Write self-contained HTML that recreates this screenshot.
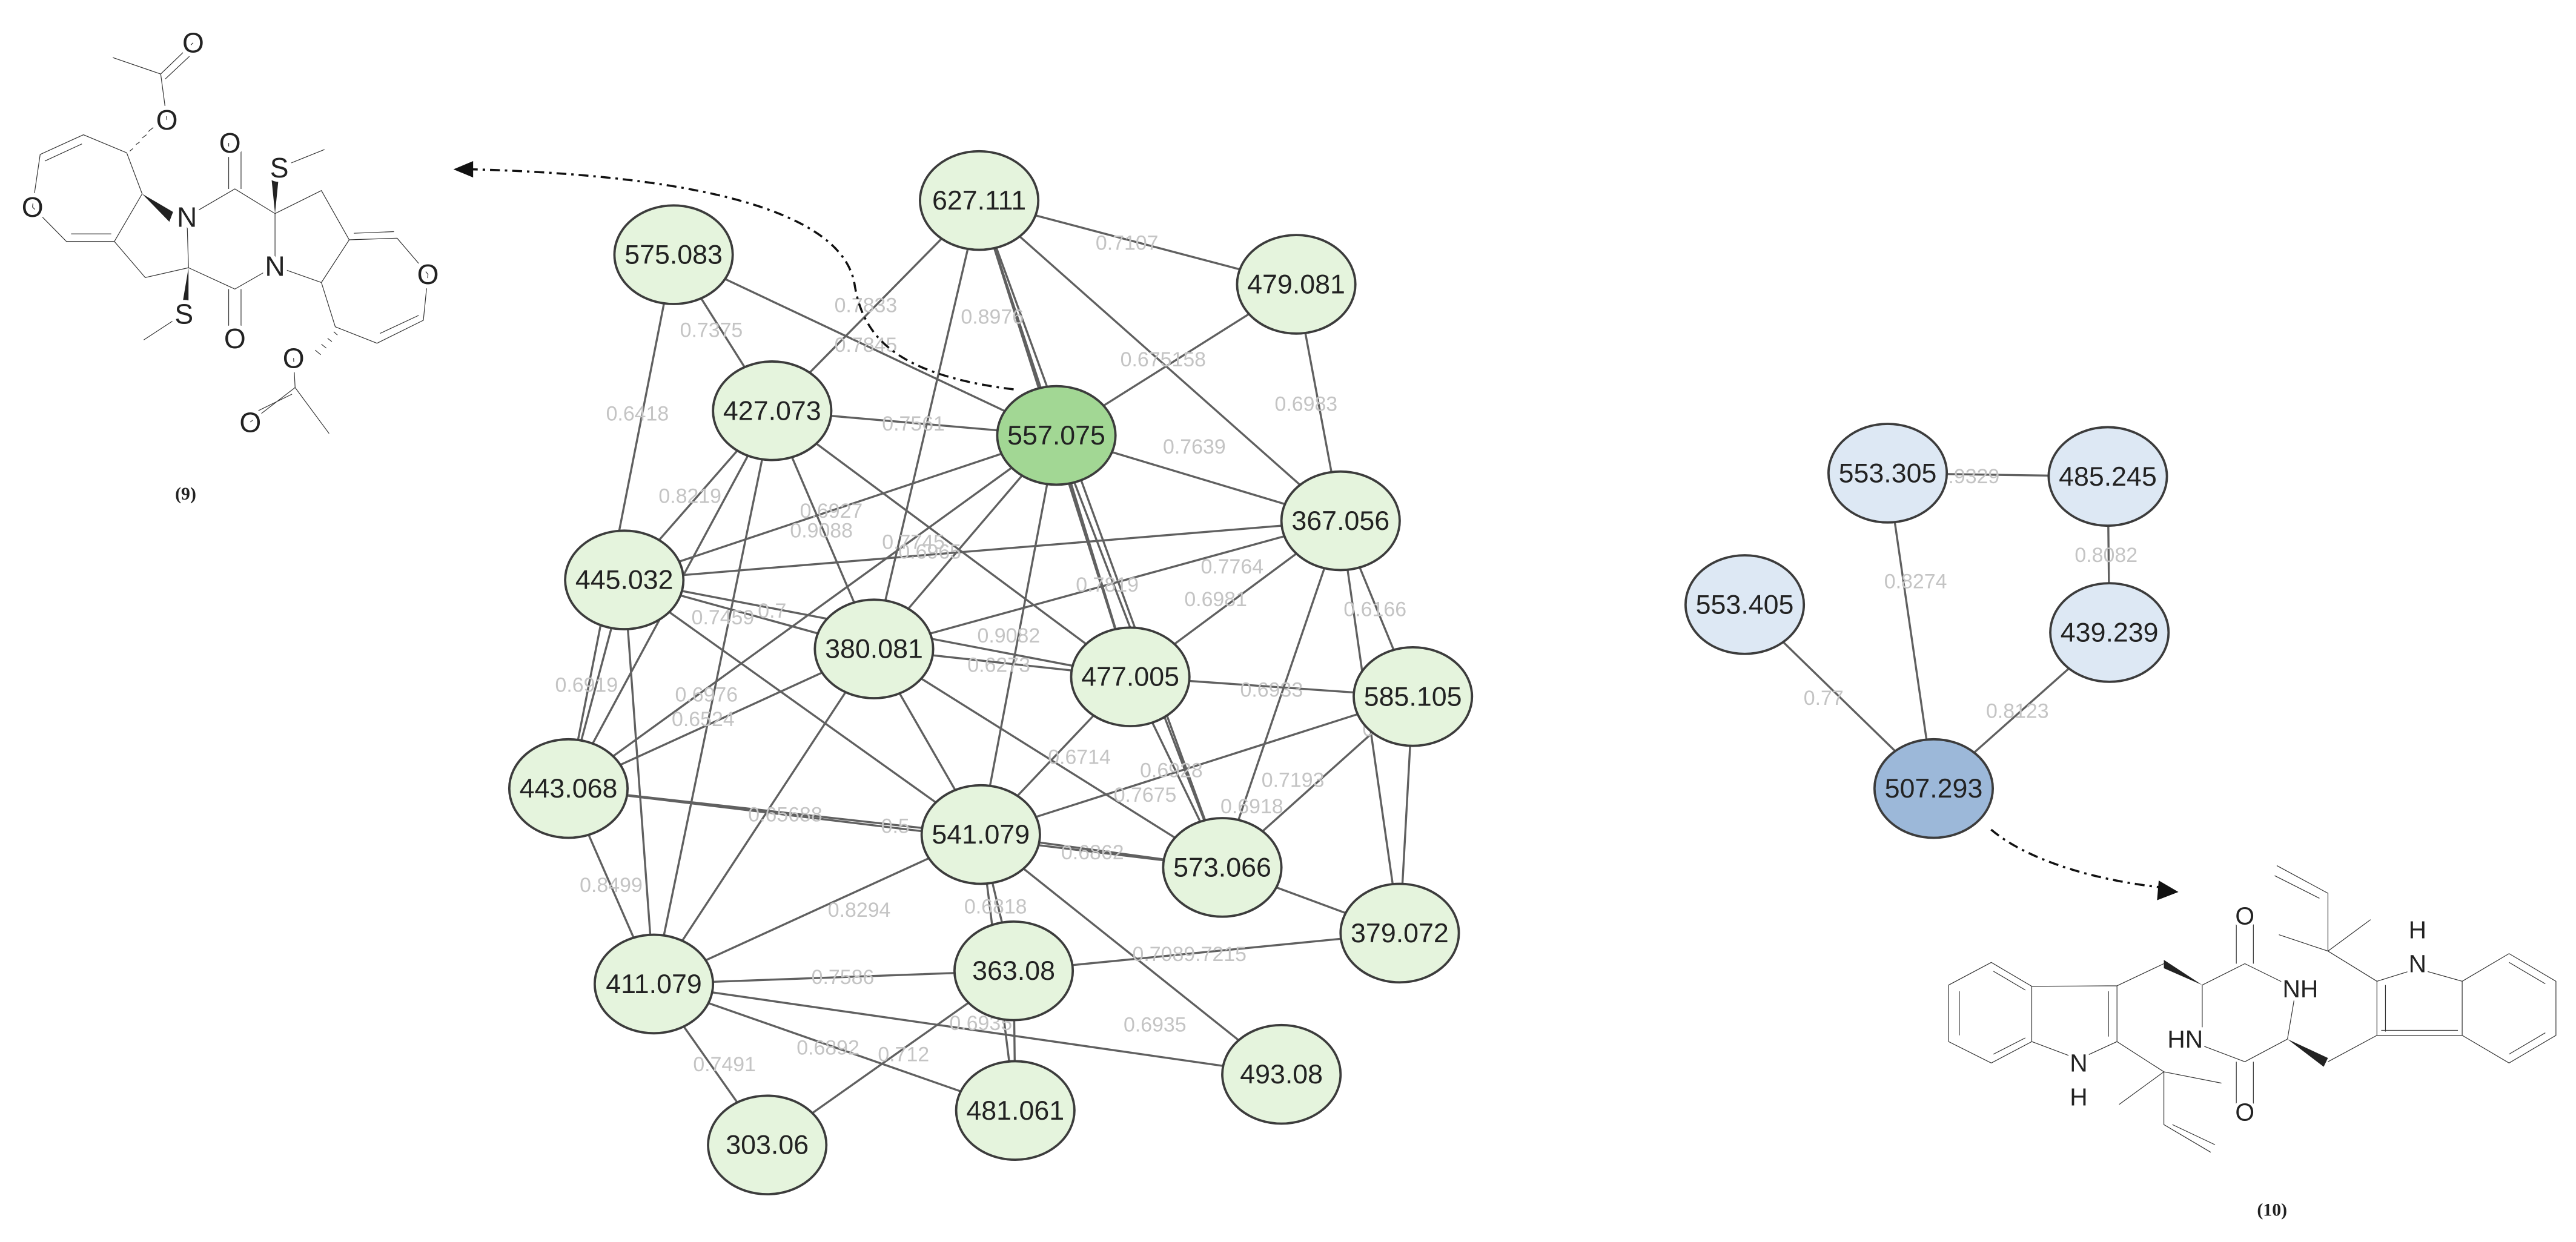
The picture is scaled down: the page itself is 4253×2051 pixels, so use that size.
<!DOCTYPE html>
<html><head><meta charset="utf-8"><style>
html,body{margin:0;padding:0;background:#fff;}
svg{display:block}
.e{stroke:#606060;stroke-width:1.25;fill:none}
.nd{stroke:#3c3c3c;stroke-width:1.4}
.nt{font-family:"Liberation Sans",sans-serif;font-size:16.5px;fill:#222;text-anchor:middle;dominant-baseline:central}
.el{font-family:"Liberation Sans",sans-serif;font-size:12.5px;fill:#c4c4c4;text-anchor:middle;dominant-baseline:central}
.b{stroke:#333;stroke-width:1.2;fill:none;vector-effect:non-scaling-stroke}
.b2{stroke:#333;stroke-width:1.2;fill:none;vector-effect:non-scaling-stroke}
.at{font-family:"Liberation Sans",sans-serif;font-size:17px;fill:#222;text-anchor:middle;dominant-baseline:central;stroke:#fff;stroke-width:5px;paint-order:stroke}
.at2{font-family:"Liberation Sans",sans-serif;font-size:15px;fill:#222;text-anchor:middle;dominant-baseline:central;stroke:#fff;stroke-width:4px;paint-order:stroke}
.lab{font-family:"Liberation Serif",serif;font-weight:bold;font-size:11px;fill:#222;text-anchor:middle}
</style></head><body>
<svg width="4253" height="2051" viewBox="0 0 1568 756" xmlns="http://www.w3.org/2000/svg">
<rect width="1568" height="756" fill="#fff"/>
<path class="e" d="
M596,122L470,250 M596,122L643,265 M596,122L789,173 M596,122L816,317 M596,122L688,412 M596,122L532,395 M596,122L744,528
M410,155L470,250 M410,155L643,265 M410,155L346,480
M789,173L643,265 M789,173L816,317
M470,250L643,265 M470,250L380,353 M470,250L532,395 M470,250L346,480 M470,250L398,599 M470,250L688,412
M643,265L380,353 M643,265L532,395 M643,265L688,412 M643,265L597,508 M643,265L816,317 M643,265L744,528 M643,265L346,480
M816,317L380,353 M816,317L532,395 M816,317L688,412 M816,317L860,424 M816,317L744,528 M816,317L852,568
M380,353L532,395 M380,353L688,412 M380,353L346,480 M380,353L398,599 M380,353L597,508
M532,395L688,412 M532,395L346,480 M532,395L398,599 M532,395L597,508 M532,395L744,528
M688,412L597,508 M688,412L744,528 M688,412L860,424
M860,424L597,508 M860,424L744,528 M860,424L852,568
M346,480L597,508 M346,480L744,528 M346,480L398,599
M597,508L744,528 M597,508L398,599 M597,508L617,591 M597,508L780,654 M597,508L618,676
M744,528L852,568
M398,599L617,591 M398,599L780,654 M398,599L618,676 M398,599L467,697
M617,591L852,568 M617,591L618,676 M617,591L467,697"/>
<g class="el">
<text x="686" y="148">0.7107</text><text x="527" y="186">0.7833</text><text x="433" y="201">0.7375</text>
<text x="604" y="193">0.8976</text><text x="527" y="210">0.7845</text><text x="708" y="219">0.675158</text>
<text x="795" y="246">0.6983</text><text x="388" y="252">0.6418</text><text x="556" y="258">0.7561</text>
<text x="727" y="272">0.7639</text><text x="420" y="302">0.8219</text><text x="506" y="311">0.6927</text>
<text x="500" y="323">0.9088</text><text x="556" y="330">0.7745</text><text x="566" y="336">0.6965</text>
<text x="750" y="345">0.7764</text><text x="674" y="356">0.7819</text><text x="740" y="365">0.6981</text>
<text x="837" y="371">0.6166</text><text x="440" y="376">0.7459</text><text x="470" y="372">0.7</text>
<text x="614" y="387">0.9082</text><text x="608" y="405">0.6273</text><text x="357" y="417">0.6919</text>
<text x="430" y="423">0.6976</text><text x="428" y="438">0.6524</text><text x="774" y="420">0.6933</text>
<text x="838" y="444">0.6</text><text x="657" y="461">0.6714</text><text x="713" y="469">0.6928</text>
<text x="787" y="475">0.7193</text><text x="378" y="477">6</text><text x="697" y="484">0.7675</text>
<text x="762" y="491">0.6918</text><text x="478" y="496">0.65688</text><text x="545" y="503">0.5</text>
<text x="665" y="519">0.6862</text><text x="372" y="539">0.8499</text><text x="523" y="554">0.8294</text>
<text x="606" y="552">0.6818</text><text x="724" y="581">0.7089.7215</text><text x="513" y="595">0.7586</text>
<text x="597" y="623">0.6935</text><text x="703" y="624">0.6935</text><text x="504" y="638">0.6892</text>
<text x="550" y="642">0.712</text><text x="441" y="648">0.7491</text>
</g>
<g>
<ellipse class="nd" cx="596" cy="122" rx="36" ry="30" fill="#e5f4dd"/><text class="nt" x="596" y="122">627.111</text>
<ellipse class="nd" cx="410" cy="155" rx="36" ry="30" fill="#e5f4dd"/><text class="nt" x="410" y="155">575.083</text>
<ellipse class="nd" cx="789" cy="173" rx="36" ry="30" fill="#e5f4dd"/><text class="nt" x="789" y="173">479.081</text>
<ellipse class="nd" cx="470" cy="250" rx="36" ry="30" fill="#e5f4dd"/><text class="nt" x="470" y="250">427.073</text>
<ellipse class="nd" cx="643" cy="265" rx="36" ry="30" fill="#a2d794"/><text class="nt" x="643" y="265">557.075</text>
<ellipse class="nd" cx="816" cy="317" rx="36" ry="30" fill="#e5f4dd"/><text class="nt" x="816" y="317">367.056</text>
<ellipse class="nd" cx="380" cy="353" rx="36" ry="30" fill="#e5f4dd"/><text class="nt" x="380" y="353">445.032</text>
<ellipse class="nd" cx="532" cy="395" rx="36" ry="30" fill="#e5f4dd"/><text class="nt" x="532" y="395">380.081</text>
<ellipse class="nd" cx="688" cy="412" rx="36" ry="30" fill="#e5f4dd"/><text class="nt" x="688" y="412">477.005</text>
<ellipse class="nd" cx="860" cy="424" rx="36" ry="30" fill="#e5f4dd"/><text class="nt" x="860" y="424">585.105</text>
<ellipse class="nd" cx="346" cy="480" rx="36" ry="30" fill="#e5f4dd"/><text class="nt" x="346" y="480">443.068</text>
<ellipse class="nd" cx="597" cy="508" rx="36" ry="30" fill="#e5f4dd"/><text class="nt" x="597" y="508">541.079</text>
<ellipse class="nd" cx="744" cy="528" rx="36" ry="30" fill="#e5f4dd"/><text class="nt" x="744" y="528">573.066</text>
<ellipse class="nd" cx="852" cy="568" rx="36" ry="30" fill="#e5f4dd"/><text class="nt" x="852" y="568">379.072</text>
<ellipse class="nd" cx="398" cy="599" rx="36" ry="30" fill="#e5f4dd"/><text class="nt" x="398" y="599">411.079</text>
<ellipse class="nd" cx="617" cy="591" rx="36" ry="30" fill="#e5f4dd"/><text class="nt" x="617" y="591">363.08</text>
<ellipse class="nd" cx="780" cy="654" rx="36" ry="30" fill="#e5f4dd"/><text class="nt" x="780" y="654">493.08</text>
<ellipse class="nd" cx="618" cy="676" rx="36" ry="30" fill="#e5f4dd"/><text class="nt" x="618" y="676">481.061</text>
<ellipse class="nd" cx="467" cy="697" rx="36" ry="30" fill="#e5f4dd"/><text class="nt" x="467" y="697">303.06</text>
</g>
<path class="e" d="M1149,288L1283,290 M1283,290L1284,385 M1149,288L1177,480 M1062,368L1177,480 M1284,385L1177,480"/>
<g class="el"><text x="1198" y="290">0.9329</text><text x="1282" y="338">0.8082</text><text x="1166" y="354">0.8274</text><text x="1110" y="425">0.77</text><text x="1228" y="433">0.8123</text></g>
<ellipse class="nd" cx="1149" cy="288" rx="36" ry="30" fill="#dde8f4"/><text class="nt" x="1149" y="288">553.305</text>
<ellipse class="nd" cx="1283" cy="290" rx="36" ry="30" fill="#dde8f4"/><text class="nt" x="1283" y="290">485.245</text>
<ellipse class="nd" cx="1062" cy="368" rx="36" ry="30" fill="#dde8f4"/><text class="nt" x="1062" y="368">553.405</text>
<ellipse class="nd" cx="1284" cy="385" rx="36" ry="30" fill="#dde8f4"/><text class="nt" x="1284" y="385">439.239</text>
<ellipse class="nd" cx="1177" cy="480" rx="36" ry="30" fill="#9cb8d9"/><text class="nt" x="1177" y="480">507.293</text>
<path d="M617,237 C545,228 525,205 520,172 C510,122 400,106 287,103" stroke="#111" stroke-width="1.3" fill="none" stroke-dasharray="6,3,1.5,3"/>
<polygon points="276,103 288,98 288,108" fill="#111"/>
<path d="M1212,505 C1232,522 1270,535 1314,540" stroke="#111" stroke-width="1.3" fill="none" stroke-dasharray="6,3,1.5,3"/>
<polygon points="1326,543 1314,536 1313,548" fill="#111"/>
<g transform="matrix(0.1881,0,0,0.1999,0,0)">
<path class="b" d="M365,175L520,225 L625,130 M535,240L620,165 M520,225L540,365
M105,630L130,470 L270,410 L410,465 L460,590 L370,735 L215,735 L105,630 M145,490L265,438 M230,712L360,712
M370,735L470,845 L610,815 L605,660 M610,815L760,880 L890,810 M740,880L740,1030 M780,880L780,1030
M605,660L760,575 L890,650 L890,810 M740,575L740,435 M780,575L780,435
M595,955L465,1035 M905,510L1050,455
M890,650L1040,580 L1130,730 L1285,725 L1385,835 L1370,975 L1220,1045 L1085,995 L1040,860 L1130,730 M890,810L1040,860
M1145,710L1275,705 M1355,960L1230,1015
M950,1090L955,1180 L810,1285 M945,1200L815,1260 M955,1180L1065,1320"/>
<polygon points="460,590 560,645 548,675" fill="#222"/>
<polygon points="610,815 585,955 610,955" fill="#222"/>
<polygon points="890,650 875,510 905,510" fill="#222"/>
<path class="b" d="M420,460L430,452 M440,440L452,432 M460,420L474,410 M480,400L496,388 M1080,1010L1092,1020 M1060,1030L1074,1040 M1040,1048L1056,1060 M1020,1066L1038,1080" />
</g>
<g class="at">
<text x="117.6" y="26">O</text><text x="101.6" y="73">O</text><text x="19.8" y="126">O</text><text x="113.8" y="132">N</text>
<text x="140" y="87">O</text><text x="170" y="102">S</text><text x="167.4" y="162">N</text><text x="112" y="191">S</text>
<text x="143" y="206">O</text><text x="260.5" y="167">O</text><text x="178.7" y="218">O</text><text x="152.4" y="257">O</text>
</g>
<text class="lab" x="113" y="304">(9)</text>
<g transform="matrix(0.2594,0,0,0.1531,1161.5,516.2)">
<path class="b2" d="M195,455L95,545 L95,770 L195,855 L290,770 L290,550 L195,455 M120,570L120,745 M200,490L275,565 M200,820L275,755
M290,550L490,548 L490,770 L400,840 L290,770 M470,570L470,750
M490,548L600,460 M690,545L790,460 L910,560 M770,460L770,270 M810,460L810,270 M690,545L690,760 M650,760L790,850 L890,760 M770,850L770,1050 M810,850L810,1050
M910,560L890,760 M985,850L1100,745
M490,770L600,890 L735,935 M600,890L495,1020 M600,890L600,1100 L710,1210 M620,1100L720,1180
M1100,745L1100,530 L1195,480 L1300,530 L1300,745 L1100,745 M1120,730L1120,545 M1110,725L1290,725
M1300,530L1410,420 L1520,530 L1520,745 L1410,855 L1300,745 M1410,455L1495,540 M1495,735L1410,820
M1100,530L985,410 L870,345 M985,410L1085,285 M985,410L985,180 L865,70 M965,200L860,110"/>
<polygon points="600,445 690,545 600,478" fill="#222"/>
<polygon points="890,760 985,835 975,870" fill="#222"/>
</g>
<g class="at2">
<text x="1366.4" y="557.5">O</text><text x="1400.2" y="602">NH</text><text x="1330.1" y="632.6">HN</text>
<text x="1265.3" y="647.1">N</text><text x="1265.3" y="667.8">H</text><text x="1366.4" y="677">O</text>
<text x="1471.5" y="586.6">N</text><text x="1471.5" y="566">H</text>
</g>
<text class="lab" x="1383" y="740">(10)</text>
</svg>
</body></html>
